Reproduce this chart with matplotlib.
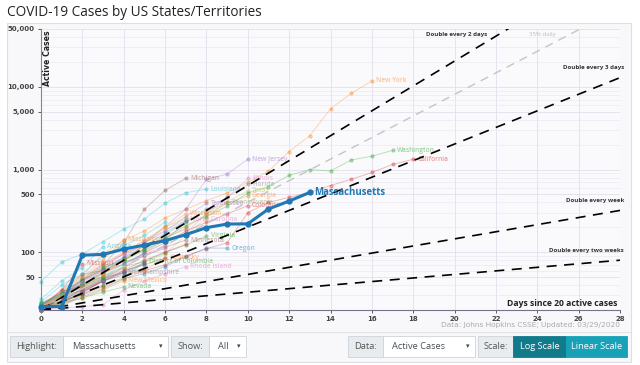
import numpy as np
import matplotlib
matplotlib.use('Agg')
import matplotlib.pyplot as plt
from matplotlib.patches import Rectangle
from matplotlib.ticker import FixedLocator, LogLocator, NullFormatter

# Active cases per day since 20 active cases
ma_name = 'Massachusetts'
ma_values = [22, 22, 92, 94, 109, 122, 138, 163, 198, 219, 220, 333, 415, 528]

state_names = [
    'New York', 'New Jersey', 'Michigan', 'Louisiana', 'Illinois', 'Florida',
    'Texas', 'Georgia', 'Tennessee', 'Pennsylvania', 'Colorado', 'Washington',
    'California', 'Oregon', 'Rhode Island', 'Kentucky', 'District of Columbia',
    'New Hampshire', 'New Mexico', 'Nevada', 'Arizona', 'Missouri', 'Mississippi',
    'Virginia', 'Minnesota', 'Wisconsin', 'North Carolina', 'Maryland', 'Indiana',
    'Connecticut', 'Ohio', 'Alabama', 'Utah', 'South Carolina', 'Oklahoma', 'Iowa',
    'Arkansas', 'Kansas', 'Delaware', 'Idaho', 'Maine', 'Vermont', 'Hawaii',
    'Nebraska', 'Montana', 'Puerto Rico', 'West Virginia', 'North Dakota',
]
state_values = [
    [23, 33, 52, 95, 140, 180, 260, 330, 420, 520, 700, 955, 1650, 2560, 5430, 8300, 11800],
    [21, 30, 45, 62, 88, 130, 205, 330, 760, 880, 1330],
    [21, 30, 45, 70, 130, 330, 560, 780],
    [44, 76, 95, 134, 190, 252, 393, 523, 580],
    [22, 25, 32, 47, 64, 93, 120, 170, 290, 460, 780],
    [20, 28, 35, 48, 65, 100, 140, 230, 330, 460, 660],
    [21, 26, 35, 45, 58, 75, 95, 160, 260, 410, 550],
    [22, 31, 42, 66, 97, 120, 146, 199, 287, 390, 480],
    [24, 32, 48, 73, 94, 130, 180, 270, 390],
    [21, 29, 40, 55, 80, 110, 160, 240, 310, 400],
    [23, 30, 41, 56, 72, 98, 130, 180, 230, 290, 365],
    [20, 28, 40, 60, 80, 110, 150, 210, 270, 360, 520, 620, 850, 1000, 960, 1300, 1450, 1700],
    [21, 25, 32, 45, 53, 60, 70, 90, 110, 130, 300, 400, 460, 530, 640, 760, 920, 1150, 1330],
    [20, 24, 29, 36, 48, 55, 67, 88, 112, 112],
    [20, 21, 22, 23, 35, 45, 55, 67],
    [21, 26, 30, 38, 47, 60, 86],
    [20, 25, 31, 40, 49, 77],
    [20, 23, 34, 44, 57],
    [21, 23, 28, 35, 45],
    [20, 24, 28, 33, 38],
    [27, 45, 65, 117],
    [22, 35, 72],
    [22, 34, 50, 80, 141],
    [20, 30, 41, 51, 67, 77, 99, 122, 157],
    [21, 35, 54, 60, 77, 89, 115, 140],
    [21, 32, 47, 72, 100, 140, 200, 290],
    [24, 33, 40, 63, 97, 137, 184, 250],
    [23, 31, 41, 57, 85, 107, 149, 190],
    [24, 30, 39, 56, 79, 126, 201, 259],
    [25, 40, 55, 90, 120, 160, 230],
    [23, 32, 46, 62, 86, 119, 170, 240],
    [22, 30, 39, 52, 80, 120],
    [24, 32, 46, 66, 80, 105, 140],
    [20, 28, 35, 47, 60, 80, 100, 125],
    [21, 27, 33, 45, 58, 74],
    [21, 24, 33, 45, 60, 70, 85],
    [22, 31, 44, 60, 71, 95, 110],
    [21, 27, 36, 45, 56, 64],
    [22, 30, 38, 48, 66],
    [23, 31, 42, 50, 73, 94],
    [20, 28, 39, 49, 56, 72],
    [20, 28, 38, 51],
    [22, 25, 37, 48],
    [22, 26, 31],
    [21, 27, 34, 45],
    [20, 22, 31, 39],
    [20, 25, 37],
    [20, 26, 32],
]

doubling_days = [2, 3, 7, 14]
doubling_labels = ['Double every 2 days', 'Double every 3 days',
                   'Double every week', 'Double every two weeks']
daily_growth = 1.35
start_cases = 20

x_ticks = list(range(0, 29, 2))
y_ticks = [50, 100, 500, 1000, 5000, 10000, 50000]
y_tick_labels = ['50', '100', '500', '1,000', '5,000', '10,000', '50,000']

# colours of the states whose labels can be read in the original
palette = {
    'New York': '#ff7f0e', 'New Jersey': '#9467bd', 'Michigan': '#8c564b',
    'Louisiana': '#17becf', 'Illinois': '#e377c2', 'Florida': '#7f7f7f',
    'Texas': '#bcbd22', 'Georgia': '#ff7f0e', 'Tennessee': '#9467bd',
    'Pennsylvania': '#8ca252', 'Colorado': '#d62728', 'Washington': '#2ca02c',
    'California': '#d62728', 'Oregon': '#1f77b4', 'Rhode Island': '#e377c2',
    'Kentucky': '#ff7f0e', 'District of Columbia': '#2ca02c',
    'New Hampshire': '#7f7f7f', 'New Mexico': '#ff7f0e', 'Nevada': '#2ca02c',
    'Arizona': '#17becf', 'Missouri': '#d62728', 'Mississippi': '#ff7f0e',
    'Virginia': '#2ca02c', 'Minnesota': '#8c564b', 'Wisconsin': '#ff7f0e',
    'North Carolina': '#e377c2',
}
cycle = ['#1f77b4', '#ff7f0e', '#2ca02c', '#d62728', '#9467bd',
         '#8c564b', '#e377c2', '#7f7f7f', '#bcbd22', '#17becf']

ui_font = 'Open Sans'

fig = plt.figure(figsize=(6.4, 3.65), dpi=100)

# page background / panel / widgets drawn in pixel coordinates
bg = fig.add_axes([0, 0, 1, 1], zorder=0)
bg.set_xlim(0, 640)
bg.set_ylim(365, 0)
bg.axis('off')
bg.add_patch(Rectangle((7, 23), 624, 339, facecolor='#f8f8fa', edgecolor='#dedee6', lw=0.8))
bg.plot([7, 631], [332, 332], color='#e2e2e8', lw=0.8)
bg.text(7, 12, 'COVID-19 Cases by US States/Territories', fontsize=9.8,
        family=ui_font, color='#222222', va='center', ha='left')


def box(x0, x1, text, face, fg, edge='#ced4da', ha='center', caret=False):
    bg.add_patch(Rectangle((x0, 336), x1 - x0, 21, facecolor=face, edgecolor=edge, lw=0.6))
    if ha == 'center':
        bg.text((x0 + x1) / 2, 346.5, text, fontsize=6.7, family=ui_font, color=fg,
                ha='center', va='center')
    else:
        bg.text(x0 + 9, 346.5, text, fontsize=6.7, family=ui_font, color=fg,
                ha='left', va='center')
    if caret:
        bg.text(x1 - 7, 346.5, '\u25be', fontsize=5, color='#444444', ha='center', va='center')


box(10, 63, 'Highlight:', '#e9ecef', '#555555')
box(63, 168, 'Massachusetts', 'white', '#495057', ha='left', caret=True)
box(171, 209, 'Show:', '#e9ecef', '#555555')
box(209, 246, 'All', 'white', '#495057', ha='left', caret=True)
box(348, 383, 'Data:', '#e9ecef', '#555555')
box(383, 475, 'Active Cases', 'white', '#495057', ha='left', caret=True)
box(478, 513, 'Scale:', '#e9ecef', '#555555')
box(513, 566, 'Log Scale', '#117a8b', 'white', edge='#117a8b')
box(566, 627, 'Linear Scale', '#17a2b8', 'white', edge='#17a2b8')

# main chart
ax = fig.add_axes([41 / 640, 1 - 310 / 365, 579 / 640, 281 / 365], zorder=1)
ax.set_facecolor('#fafafd')
ax.set_yscale('log')
ax.set_xlim(0, 28)
ax.set_ylim(20, 50000)

ax.yaxis.set_major_locator(FixedLocator(y_ticks))
ax.set_yticklabels(y_tick_labels)
ax.yaxis.set_minor_locator(LogLocator(base=10, subs=np.arange(2, 10)))
ax.yaxis.set_minor_formatter(NullFormatter())
ax.set_xticks(x_ticks)
ax.tick_params(axis='both', which='major', labelsize=5, colors='#444444',
               length=2.5, width=0.6, pad=2)
ax.tick_params(axis='y', which='minor', length=0)
for lbl in ax.get_xticklabels() + ax.get_yticklabels():
    lbl.set_fontweight('bold')

ax.grid(True, which='major', color='#e3dfec', lw=0.6)
ax.grid(True, which='minor', axis='y', color='#ece9f2', lw=0.5)
for s in ['top', 'right']:
    ax.spines[s].set_visible(False)
ax.spines['left'].set_color('#888888')
ax.spines['bottom'].set_color('#7b6f8e')
ax.spines['left'].set_linewidth(0.8)
ax.spines['bottom'].set_linewidth(0.8)

# other states, faded
for i, (name, vals) in enumerate(zip(state_names, state_values)):
    c = palette.get(name, cycle[i % len(cycle)])
    days = np.arange(len(vals))
    ax.plot(days, vals, color=c, lw=0.7, alpha=0.3, marker='o', ms=2.2,
            zorder=2, clip_on=False)
    if name in palette:
        ax.text(days[-1] + 0.2, vals[-1], name, color=c, alpha=0.45, fontsize=4.8,
                family=ui_font, fontweight='semibold', va='center', ha='left', zorder=2)

# reference growth lines
xx = np.linspace(0, 28, 300)
for d in doubling_days:
    ax.plot(xx, start_cases * 2 ** (xx / d), color='black', lw=1.2,
            dashes=(6, 4.5), zorder=3)
ax.plot(xx, start_cases * daily_growth ** xx, color='#c4c4c4', lw=1.0,
        dashes=(6, 4.5), zorder=3)

ref_kw = dict(fontsize=4.4, fontweight='bold', family=ui_font, color='#333333',
              ha='right', va='center')
ax.text(21.6, 43000, doubling_labels[0], **ref_kw)
ax.text(24.9, 43000, '35% daily', fontsize=4.4, family=ui_font, color='#bbbbbb',
        ha='right', va='center')
ax.text(28.2, 16900, doubling_labels[1], **ref_kw)
ax.text(28.2, 426, doubling_labels[2], **ref_kw)
ax.text(28.2, 106, doubling_labels[3], **ref_kw)

# highlighted state
ma_days = np.arange(len(ma_values))
ax.plot(ma_days, ma_values, color='#1f77b4', lw=2.2, marker='o', ms=3.5,
        zorder=5, clip_on=False)
ax.text(ma_days[-1] + 0.2, ma_values[-1], ma_name, color='#1f77b4', fontsize=6.9,
        family=ui_font, fontweight='bold', va='center', ha='left', zorder=5)

ax.text(0.3, 48000, 'Active Cases', rotation=90, fontsize=5.6, fontweight='bold',
        color='#222222', ha='center', va='top')
ax.text(27.85, 24.3, 'Days since 20 active cases', fontsize=6.2, fontweight='bold',
        family=ui_font, color='#222222', ha='right', va='center')
fig.text(620 / 640, 1 - 325 / 365, 'Data: Johns Hopkins CSSE; Updated: 03/29/2020',
         fontsize=5.3, color='#aaaaaa', ha='right', va='center')

fig.savefig('out.png', dpi=100)
